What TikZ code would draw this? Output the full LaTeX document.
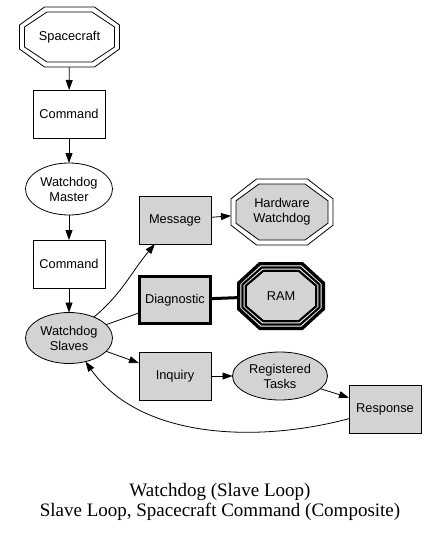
\documentclass[tikz,border=0pt]{standalone}
\usepackage{fontspec}
\setmainfont{Liberation Serif}
\setsansfont{Liberation Sans}
\usetikzlibrary{shapes.geometric, arrows.meta, calc, backgrounds}
\definecolor{grigio}{HTML}{D3D3D3}

% ottagono disegnato attorno a un nodo rettangolare (rientro #3)
\newcommand{\ottagono}[3][]{%
  \path[#1] let \p1=(#2.south west), \p2=(#2.north east),
    \n1={\x1+#3}, \n2={\x2-#3}, \n3={\y1+#3}, \n4={\y2-#3},
    \n5={0.25*(\n2-\n1)}, \n6={0.3*(\n4-\n3)} in
    (\n1,\n3+\n6) -- (\n1,\n4-\n6) -- (\n1+\n5,\n4) -- (\n2-\n5,\n4)
    -- (\n2,\n4-\n6) -- (\n2,\n3+\n6) -- (\n2-\n5,\n3) -- (\n1+\n5,\n3) -- cycle;}

\begin{document}
\begin{tikzpicture}[
  x=1pt, y=1pt,
  font=\sffamily\fontsize{12.8}{15}\selectfont,
  blocco/.style={draw=black, line width=0.8pt, align=center, inner sep=0pt, outer sep=0pt,
                 minimum width=72pt, minimum height=48pt},
  grigio/.style={blocco, fill=grigio},
  spesso/.style={grigio, line width=3.5pt, minimum width=71pt, minimum height=47pt},
  ovale/.style={blocco, ellipse, minimum width=87pt, minimum height=52pt},
  vuoto/.style={align=center, inner sep=0pt, outer sep=0pt},
  punta/.style={-{Triangle[length=10pt,width=7pt]}},
  collegamento/.style={draw=black, line width=0.8pt, punta},
  semplice/.style={draw=black, line width=0.8pt}
]
\useasboundingbox (0,0) rectangle (439,-533);

% colonna di sinistra
\node[vuoto, minimum width=100pt, minimum height=60pt] (craft) at (69.5,-37) {Spacecraft};
\node[blocco] (cmdA) at (69,-114) {Command};
\node[ovale] (master) at (69,-189) {Watchdog\\ Master};
\node[blocco] (cmdB) at (69,-264) {Command};
\node[ovale, fill=grigio, minimum height=51pt] (slaves) at (69,-338) {Watchdog\\ Slaves};

% ramo destro
\node[grigio] (msg) at (175,-220) {Message};
\node[vuoto, minimum width=102pt, minimum height=66pt] (hwdog) at (282,-212) {Hardware\\ Watchdog};
\node[spesso] (diag) at (175,-300) {Diagnostic};
\node[vuoto, minimum width=88pt, minimum height=68pt] (ram) at (281,-296) {RAM};
\node[grigio] (inq) at (175,-376) {Inquiry};
\node[ovale, fill=grigio, minimum width=95pt, minimum height=48pt] (tasks) at (280,-376) {Registered\\ Tasks};
\node[grigio] (resp) at (385,-409) {Response};

% ottagoni
\begin{scope}[on background layer]
  \ottagono[semplice]{craft}{0}
  \ottagono[semplice]{craft}{5}
  \ottagono[semplice]{hwdog}{0}
  \ottagono[semplice, fill=grigio]{hwdog}{5}
  \ottagono[fill=grigio]{ram}{8.7}
  \foreach \r/\w in {1.7/3.4, 5.5/2.2, 8.7/2.2}
    {\ottagono[draw=black, line width=\w pt]{ram}{\r}}
\end{scope}

% collegamenti
\draw[collegamento] (craft) -- (cmdA);
\draw[collegamento] (cmdA) -- (master);
\draw[collegamento] (master) -- (cmdB);
\draw[collegamento] (cmdB) -- (slaves);
\draw[collegamento] (slaves) to[out=40, in=-130] (msg);
\draw[semplice] (slaves) -- (diag);
\draw[collegamento] (slaves) -- (inq);
\draw[collegamento] (msg) -- (hwdog);
\draw[semplice, line width=3pt] (diag) -- (ram);
\draw[collegamento] (inq) -- (tasks);
\draw[collegamento] (tasks) -- (resp);
\draw[collegamento] (resp) to[out=195, in=-55, looseness=0.9] (slaves);

% didascalia
\node[font=\rmfamily\fontsize{19}{20}\selectfont, align=center] (didascalia) at (220,-502)
  {Watchdog (Slave Loop)\\ Slave Loop, Spacecraft Command (Composite)};

\end{tikzpicture}
\end{document}
